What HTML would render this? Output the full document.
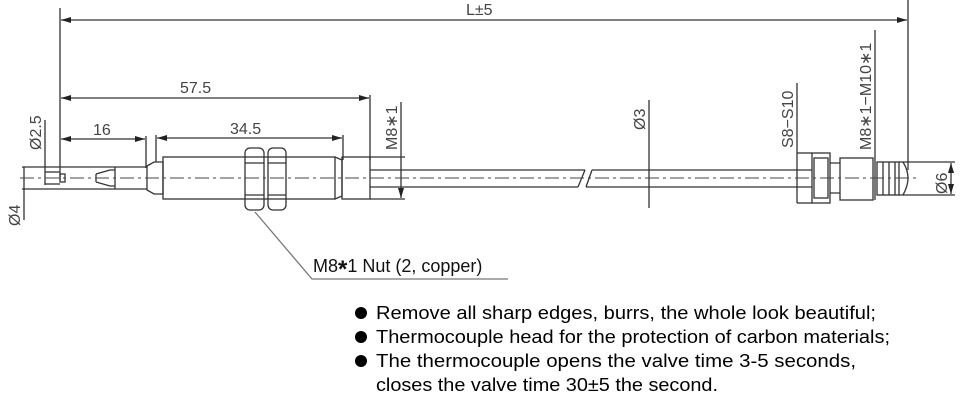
<!DOCTYPE html>
<html><head><meta charset="utf-8"><style>
html,body{margin:0;padding:0;background:#fff;}
svg{display:block;}
.t{font-family:"Liberation Sans",Arial,sans-serif;fill:#444;}
.b{font-family:"Liberation Sans",Arial,sans-serif;fill:#000;font-size:18px;}
</style></head><body>
<svg width="960" height="404" viewBox="0 0 960 404" xmlns="http://www.w3.org/2000/svg">
<defs>
<marker id="a" viewBox="0 0 10 6" refX="10" refY="3" markerWidth="10" markerHeight="6" orient="auto-start-reverse" markerUnits="userSpaceOnUse"><path d="M0,0 L10,3 L0,6z" fill="#222"/></marker>
</defs>
<g stroke="#333" stroke-width="1.3" fill="none">
<line x1="60" y1="8" x2="60" y2="180"/>
<line x1="908" y1="0" x2="908" y2="170"/>
<line x1="61" y1="20" x2="907" y2="20" marker-start="url(#a)" marker-end="url(#a)"/>
<line x1="61" y1="98" x2="369" y2="98" marker-start="url(#a)" marker-end="url(#a)"/>
<line x1="370" y1="95" x2="370" y2="160"/>
<line x1="61" y1="139" x2="145" y2="139" marker-start="url(#a)" marker-end="url(#a)"/>
<line x1="146" y1="136" x2="146" y2="168"/>
<line x1="157" y1="138" x2="342" y2="138" marker-start="url(#a)" marker-end="url(#a)"/>
<line x1="156" y1="135" x2="156" y2="162"/>
<line x1="343" y1="135" x2="343" y2="160"/>
<line x1="22" y1="167" x2="147" y2="167"/>
<line x1="22" y1="189" x2="147" y2="189"/>
<line x1="24" y1="167" x2="24" y2="220" />
<line x1="45" y1="120" x2="45" y2="185"/>
<line x1="45" y1="172" x2="60" y2="172"/>
<line x1="45" y1="184" x2="60" y2="184"/>
<rect x="60" y="174" width="5" height="8"/>
<path d="M96,174 L110,170 L115,170 M96,182 L110,186 L115,186 M96,174 L96,182 M115,167 L115,189"/>
<path d="M147,166 L154,162 L163,162 L163,194 L154,194 L147,190 Z"/>
<rect x="163" y="157" width="172" height="42"/>
<path d="M335,157 L342,160 L342,196 L335,199"/>
<rect x="342" y="157" width="28" height="42"/>
<rect x="245" y="148" width="19" height="62" rx="5"/>
<rect x="268" y="148" width="18" height="62" rx="5"/>
<line x1="245" y1="163" x2="264" y2="163"/><line x1="245" y1="195" x2="264" y2="195"/>
<line x1="268" y1="163" x2="286" y2="163"/><line x1="268" y1="195" x2="286" y2="195"/>
<line x1="370" y1="157" x2="405" y2="157"/><line x1="370" y1="199" x2="405" y2="199"/>
<line x1="401" y1="102" x2="401" y2="198" marker-end="url(#a)"/>
<path d="M370,170 L585,170 M370,187 L578,187 M592,170 L812,170 M586,187 L812,187"/>
<path d="M585,170 L578,187 M592,170 L586,187"/>
<line x1="649" y1="100" x2="649" y2="208"/>
<line x1="797" y1="83" x2="797" y2="203"/>
<line x1="797" y1="153" x2="812" y2="153"/><line x1="797" y1="203" x2="812" y2="203"/>
<rect x="812" y="153" width="18" height="50"/>
<rect x="814" y="158" width="14" height="40"/>
<path d="M830,163 L840,163 M830,193 L840,193"/>
<rect x="840" y="158" width="33" height="42"/>
<line x1="875" y1="30" x2="875" y2="200"/>
<rect x="877" y="162" width="22" height="33"/>
<line x1="883" y1="162" x2="883" y2="195"/><line x1="889" y1="162" x2="889" y2="195"/><line x1="895" y1="162" x2="895" y2="195"/>
<path d="M899,162 L903,162 Q908,170 908,178 Q908,186 903,195 L899,195"/>
<line x1="903" y1="162" x2="955" y2="162"/><line x1="903" y1="195" x2="955" y2="195"/>
<line x1="951" y1="163" x2="951" y2="194" marker-start="url(#a)" marker-end="url(#a)"/>
<path d="M255,212 L312,279 L508,279" stroke="#777"/>
</g>
<line x1="20" y1="178" x2="920" y2="178" stroke="#444" stroke-width="1" stroke-dasharray="14,4,3,4"/>
<g class="t" font-size="16">
<text x="466" y="15">L±5</text>
<text x="180" y="93">57.5</text>
<text x="93" y="135">16</text>
<text x="230" y="134">34.5</text>
<text transform="translate(41,150) rotate(-90)">Ø2.5</text>
<text transform="translate(20,226) rotate(-90)">Ø4</text>
<text transform="translate(397,150) rotate(-90)">M8∗1</text>
<text transform="translate(645,130) rotate(-90)">Ø3</text>
<text transform="translate(793,148) rotate(-90)">S8−S10</text>
<text transform="translate(871,150) rotate(-90)">M8∗1−M10∗1</text>
<text transform="translate(947,194) rotate(-90)">Ø6</text>
</g>
<text class="b" x="313" y="272" style="fill:#111">M8<tspan font-size="24" font-weight="bold" dy="5">*</tspan><tspan dy="-5">1 Nut (2, copper)</tspan></text>
<g fill="#000"><circle cx="361" cy="313" r="6"/><circle cx="361" cy="337" r="6"/><circle cx="361" cy="361" r="6"/></g>
<text class="b" x="376" y="319" textLength="500" lengthAdjust="spacingAndGlyphs">Remove all sharp edges, burrs, the whole look beautiful;</text>
<text class="b" x="376" y="343" textLength="514" lengthAdjust="spacingAndGlyphs">Thermocouple head for the protection of carbon materials;</text>
<text class="b" x="376" y="367" textLength="480" lengthAdjust="spacingAndGlyphs">The thermocouple opens the valve time 3-5 seconds,</text>
<text class="b" x="376" y="391" textLength="342" lengthAdjust="spacingAndGlyphs">closes the valve time 30±5 the second.</text>
</svg>
</body></html>
